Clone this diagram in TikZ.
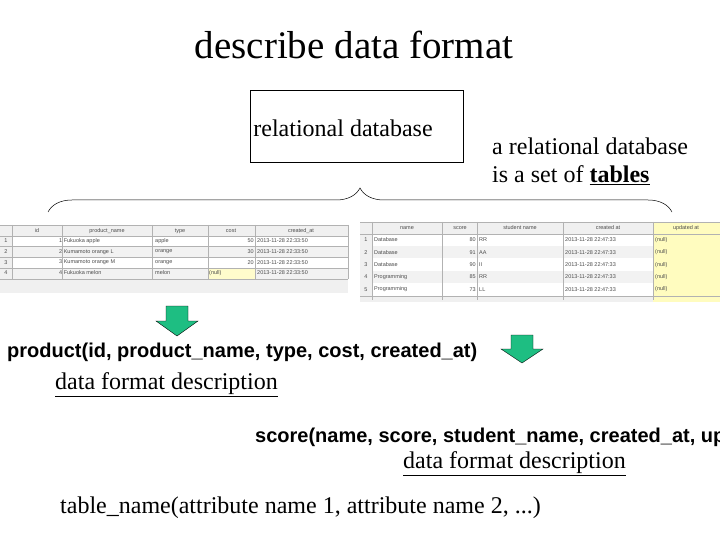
\documentclass[tikz,border=0pt]{standalone}
\usepackage{fontspec}
\setmainfont{Liberation Serif}
\newfontfamily\arial{Liberation Sans}
\usetikzlibrary{decorations.pathreplacing}
\definecolor{arrowgreen}{RGB}{30,190,130}
\begin{document}
\begin{tikzpicture}[x=1pt,y=-1pt,
  serif/.style={font=\fontsize{24}{27}\selectfont, inner sep=0pt},
  boldsans/.style={font=\arial\bfseries\fontsize{20}{22}\selectfont, inner sep=0pt},
  tcell/.style={font=\arial\fontsize{5.5}{6}\selectfont, text=black!70, inner sep=1pt},
  grid/.style={draw=black!30, line width=0.4pt},
  garrow/.style={fill=arrowgreen, draw=black, line width=0.4pt}]
\useasboundingbox (0,0) rectangle (720,540);
\fill[white] (0,0) rectangle (720,540);
\node[font=\fontsize{39}{43}\selectfont, inner sep=0pt] (title) at (354,45) {describe data format};
\node[draw, line width=0.6pt, minimum width=213pt, minimum height=72pt, anchor=north west] (box) at (250,90) {};
\node[serif] (rd) at (343,128) {relational database};
\node[serif, anchor=west] (r1) at (492,146) {a relational database};
\node[serif, anchor=west] (r2) at (492,175) {is a set of \underline{\textbf{tables}}};
\coordinate (bl) at (48,212);
\coordinate (br) at (672,212);
\draw[line width=0.5pt, decoration={brace, amplitude=24pt}, decorate] (bl) -- (br);
% left table
\fill[black!6] (0,225) rectangle (348,293);
\fill[white] (12,236) rectangle (348,279);
\fill[black!5] (12,246) rectangle (348,257);
\fill[black!5] (12,268) rectangle (348,279);
\fill[yellow!20] (208,268) rectangle (255,279);
\foreach \x in {12,62,152,208,255,348} \draw[grid] (\x,225) -- (\x,279);
\foreach \y in {225,236,246,257,268,279} \draw[grid] (0,\y) -- (348,\y);
\node[tcell] (h1) at (37,231) {id};
\node[tcell] (h2) at (107,231) {product\_name};
\node[tcell] (h3) at (180,231) {type};
\node[tcell] (h4) at (231,231) {cost};
\node[tcell] (h5) at (301,231) {created\_at};
\foreach \n/\nm/\ty/\co/\cr [count=\i] in {1/Fukuoka apple/apple/50/2013-11-28 22:33:50, 2/Kumamoto orange L/orange/30/2013-11-28 22:33:50, 3/Kumamoto orange M/orange/20/2013-11-28 22:33:50, 4/Fukuoka melon/melon/{}/2013-11-28 22:33:50}{
  \pgfmathsetmacro\yy{230.5+10.6*\i}
  \node[tcell] at (6,\yy) {\i};
  \node[tcell, anchor=west] at (58,\yy) {\n\ \nm};
  \node[tcell, anchor=west] at (154,\yy) {\ty};
  \node[tcell, anchor=east] at (255,\yy) {\co};
  \node[tcell, anchor=west] at (256,\yy) {\cr};
}
\node[tcell, anchor=west] at (208,273.4) {(null)};
% right table
\fill[black!6] (360,222) rectangle (720,302);
\fill[white] (372,234) rectangle (720,296);
\fill[black!5] (372,246) rectangle (720,258);
\fill[black!5] (372,271) rectangle (720,283);
\fill[yellow!25] (653,222) rectangle (720,302);
\foreach \x in {372,442,477,563,653} \draw[grid] (\x,222) -- (\x,300);
\foreach \y in {222,234,296} \draw[grid] (360,\y) -- (720,\y);
\node[tcell] (g1) at (407,228) {name};
\node[tcell] (g2) at (460,228) {score};
\node[tcell] (g3) at (520,228) {student name};
\node[tcell] (g4) at (608,228) {created at};
\node[tcell] (g5) at (686,228) {updated at};
\foreach \nm/\sc/\st [count=\i] in {Database/80/RR, Database/91/AA, Database/90/II, Programming/85/RR, Programming/73/LL}{
  \pgfmathsetmacro\yy{227.5+12.4*\i}
  \node[tcell] at (366,\yy) {\i};
  \node[tcell, anchor=west] at (373,\yy) {\nm};
  \node[tcell, anchor=east] at (477,\yy) {\sc};
  \node[tcell, anchor=west] at (478,\yy) {\st};
  \node[tcell, anchor=west] at (564,\yy) {2013-11-28 22:47:33};
  \node[tcell, anchor=west] at (654,\yy) {(null)};
}
% arrows
\draw[garrow] (166,306) -- (188,306) -- (188,321) -- (198,321) -- (177,336) -- (156,321) -- (166,321) -- cycle;
\draw[garrow] (511,335) -- (533,335) -- (533,349) -- (543,349) -- (522,363) -- (501,349) -- (511,349) -- cycle;
\node[boldsans, anchor=west] (p) at (7,352) {product(id, product\_name, type, cost, created\_at)};
\node[serif, anchor=west] (d1) at (55,385) {\underline{data format description}};
\begin{scope}
\clip (0,400) rectangle (720,460);
\node[boldsans, anchor=west] (s) at (255,437) {score(name, score, student\_name, created\_at, updated\_at)};
\end{scope}
\node[serif, anchor=west] (d2) at (403,464) {\underline{data format description}};
\node[serif, anchor=west] (t) at (60,508) {table\_name(attribute name 1, attribute name 2, ...)};
\end{tikzpicture}
\end{document}
